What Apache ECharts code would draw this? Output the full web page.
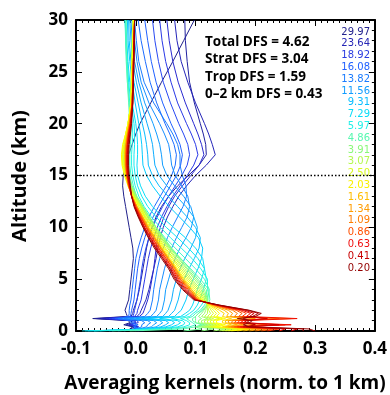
<!DOCTYPE html>
<html><head><meta charset="utf-8">
<script src="https://cdn.jsdelivr.net/npm/echarts@6/dist/echarts.min.js"></script>
<style>html,body{margin:0;padding:0;background:#fff}#c{width:390px;height:395px}</style>
</head><body><div id="c"></div>
<script>
// Altitude grid (km) shared by every kernel
const altitudes = [0, 0.2, 0.4, 0.6, 0.8, 1.0, 1.2, 1.4, 1.7, 2, 2.5, 3, 4, 5, 6, 7, 8, 9, 10, 11, 12, 13, 14, 15, 16, 17, 18, 19, 20, 22, 24, 26, 28, 30];

// Averaging kernels (norm. to 1 km), one per retrieval level, values at the altitudes above
const k_29_97 = [0.0, -0.01, -0.005, -0.02, -0.01, -0.012, -0.072, -0.014, -0.016, -0.018, -0.015, -0.012, -0.01, -0.008, -0.006, -0.004, -0.005, -0.008, -0.011, -0.014, -0.017, -0.02, -0.022, -0.021, -0.017, -0.012, -0.006, 0.0, 0.007, 0.025, 0.043, 0.062, 0.08, 0.098];
const k_26_80 = [0.003, -0.008, -0.002, -0.016, -0.006, -0.008, -0.066, -0.008, -0.005, -0.004, -0.001, 0.002, 0.006, 0.009, 0.012, 0.015, 0.018, 0.022, 0.027, 0.034, 0.043, 0.055, 0.07, 0.088, 0.106, 0.118, 0.117, 0.113, 0.108, 0.098, 0.09, 0.086, 0.083, 0.082];
const k_23_64 = [0.005, -0.004, 0.002, -0.012, 0.0, -0.002, -0.058, 0.002, 0.007, 0.009, 0.013, 0.017, 0.022, 0.026, 0.03, 0.034, 0.037, 0.041, 0.046, 0.053, 0.062, 0.072, 0.085, 0.1, 0.118, 0.133, 0.128, 0.122, 0.115, 0.1, 0.087, 0.076, 0.069, 0.065];
const k_21_30 = [0.006, -0.002, 0.005, -0.01, 0.004, 0.003, -0.05, 0.006, 0.012, 0.014, 0.017, 0.02, 0.024, 0.027, 0.03, 0.032, 0.034, 0.037, 0.041, 0.047, 0.055, 0.065, 0.078, 0.092, 0.106, 0.114, 0.11, 0.104, 0.097, 0.083, 0.071, 0.062, 0.056, 0.052];
const k_18_92 = [0.008, 0.0, 0.002, -0.007, 0.0, -0.002, -0.045, -0.002, 0.002, 0.003, 0.006, 0.009, 0.012, 0.015, 0.018, 0.021, 0.025, 0.03, 0.036, 0.043, 0.052, 0.062, 0.074, 0.086, 0.097, 0.104, 0.1, 0.093, 0.085, 0.07, 0.059, 0.05, 0.044, 0.04];
const k_17_50 = [0.01, 0.003, 0.0, -0.003, -0.002, -0.004, -0.04, -0.005, -0.003, -0.002, 0.0, 0.002, 0.005, 0.008, 0.01, 0.013, 0.017, 0.022, 0.028, 0.036, 0.045, 0.055, 0.066, 0.077, 0.086, 0.09, 0.087, 0.08, 0.072, 0.058, 0.046, 0.038, 0.032, 0.028];
const k_16_08 = [0.012, 0.005, -0.002, 0.0, -0.004, -0.007, -0.035, -0.009, -0.008, -0.007, -0.005, -0.003, -0.001, 0.001, 0.003, 0.006, 0.01, 0.015, 0.021, 0.029, 0.038, 0.048, 0.058, 0.068, 0.075, 0.078, 0.074, 0.067, 0.059, 0.045, 0.034, 0.026, 0.02, 0.015];
const k_14_90 = [0.014, 0.008, -0.004, 0.004, -0.008, -0.01, -0.028, -0.012, -0.011, -0.011, -0.01, -0.008, -0.006, -0.004, -0.002, 0.0, 0.004, 0.009, 0.015, 0.022, 0.031, 0.041, 0.051, 0.06, 0.066, 0.068, 0.064, 0.057, 0.049, 0.035, 0.024, 0.016, 0.009, 0.004];
const k_13_82 = [-0.02, 0.0, 0.01, 0.01, 0.015, 0.01, -0.03, 0.015, 0.02, 0.024, 0.026, 0.028, 0.03, 0.033, 0.036, 0.04, 0.046, 0.053, 0.061, 0.07, 0.079, 0.085, 0.084, 0.078, 0.074, 0.074, 0.07, 0.062, 0.052, 0.03, 0.014, 0.005, 0.001, -0.002];
const k_12_70 = [-0.03, 0.005, 0.018, 0.02, 0.025, 0.02, -0.02, 0.025, 0.03, 0.034, 0.036, 0.038, 0.04, 0.044, 0.048, 0.053, 0.06, 0.068, 0.077, 0.086, 0.09, 0.087, 0.077, 0.066, 0.06, 0.058, 0.055, 0.048, 0.04, 0.022, 0.009, 0.002, -0.002, -0.005];
const k_11_56 = [-0.045, 0.01, 0.026, 0.03, 0.035, 0.03, -0.01, 0.035, 0.04, 0.044, 0.046, 0.048, 0.05, 0.055, 0.06, 0.066, 0.074, 0.084, 0.093, 0.097, 0.092, 0.08, 0.065, 0.052, 0.045, 0.043, 0.04, 0.035, 0.029, 0.015, 0.005, -0.002, -0.006, -0.008];
const k_10_40 = [-0.06, 0.015, 0.034, 0.04, 0.045, 0.04, 0.0, 0.045, 0.05, 0.054, 0.057, 0.06, 0.063, 0.068, 0.074, 0.082, 0.092, 0.1, 0.103, 0.097, 0.084, 0.068, 0.052, 0.039, 0.032, 0.03, 0.028, 0.024, 0.019, 0.009, 0.001, -0.005, -0.008, -0.01];
const k_9_31 = [-0.07, 0.02, 0.042, 0.05, 0.055, 0.05, 0.01, 0.055, 0.06, 0.065, 0.068, 0.071, 0.075, 0.081, 0.089, 0.098, 0.106, 0.108, 0.1, 0.086, 0.07, 0.054, 0.039, 0.028, 0.021, 0.02, 0.018, 0.015, 0.011, 0.004, -0.003, -0.008, -0.011, -0.012];
const k_8_30 = [-0.08, 0.025, 0.05, 0.06, 0.065, 0.06, 0.02, 0.065, 0.07, 0.076, 0.08, 0.084, 0.089, 0.096, 0.104, 0.11, 0.112, 0.105, 0.09, 0.073, 0.056, 0.041, 0.028, 0.018, 0.012, 0.011, 0.01, 0.008, 0.005, -0.001, -0.006, -0.01, -0.013, -0.014];
const k_7_29 = [-0.085, 0.03, 0.06, 0.07, 0.075, 0.07, 0.04, 0.075, 0.083, 0.09, 0.095, 0.098, 0.103, 0.11, 0.115, 0.112, 0.1, 0.083, 0.063, 0.044, 0.028, 0.016, 0.008, 0.003, 0.002, 0.003, 0.003, 0.002, 0.0, -0.006, -0.01, -0.013, -0.015, -0.017];
const k_6_60 = [-0.09, 0.04, 0.07, 0.08, 0.082, 0.078, 0.06, 0.082, 0.09, 0.097, 0.103, 0.107, 0.113, 0.118, 0.115, 0.104, 0.088, 0.07, 0.051, 0.034, 0.02, 0.01, 0.003, -0.001, -0.003, -0.003, -0.002, -0.002, -0.003, -0.008, -0.012, -0.014, -0.016, -0.018];
const k_5_97 = [-0.07, 0.05, 0.08, 0.09, 0.09, 0.085, 0.075, 0.09, 0.096, 0.103, 0.11, 0.115, 0.12, 0.12, 0.109, 0.094, 0.076, 0.058, 0.041, 0.026, 0.014, 0.005, -0.001, -0.005, -0.007, -0.007, -0.006, -0.005, -0.006, -0.01, -0.013, -0.015, -0.017, -0.018];
const k_5_40 = [-0.04, 0.065, 0.09, 0.1, 0.095, 0.09, 0.085, 0.095, 0.1, 0.108, 0.115, 0.12, 0.123, 0.115, 0.1, 0.083, 0.066, 0.049, 0.034, 0.02, 0.009, 0.001, -0.004, -0.008, -0.01, -0.01, -0.009, -0.008, -0.008, -0.011, -0.014, -0.016, -0.017, -0.017];
const k_4_86 = [-0.01, 0.08, 0.1, 0.11, 0.1, 0.095, 0.095, 0.1, 0.105, 0.112, 0.12, 0.124, 0.122, 0.108, 0.092, 0.075, 0.058, 0.042, 0.028, 0.015, 0.005, -0.002, -0.007, -0.01, -0.012, -0.012, -0.011, -0.01, -0.01, -0.012, -0.014, -0.015, -0.016, -0.016];
const k_4_40 = [0.08, 0.11, 0.1, 0.115, 0.1, 0.1, 0.1, 0.1, 0.105, 0.11, 0.118, 0.121, 0.118, 0.104, 0.09, 0.075, 0.06, 0.047, 0.034, 0.023, 0.012, 0.002, -0.006, -0.012, -0.014, -0.015, -0.014, -0.013, -0.012, -0.009, -0.008, -0.007, -0.006, -0.005];
const k_3_91 = [0.11, 0.13, 0.105, 0.12, 0.105, 0.105, 0.11, 0.105, 0.11, 0.114, 0.119, 0.12, 0.115, 0.101, 0.087, 0.073, 0.059, 0.046, 0.034, 0.023, 0.012, 0.001, -0.007, -0.013, -0.016, -0.017, -0.016, -0.014, -0.012, -0.009, -0.008, -0.007, -0.006, -0.005];
const k_3_50 = [0.13, 0.15, 0.11, 0.125, 0.11, 0.11, 0.12, 0.11, 0.115, 0.117, 0.119, 0.119, 0.112, 0.098, 0.085, 0.071, 0.057, 0.045, 0.033, 0.022, 0.011, 0.0, -0.008, -0.014, -0.017, -0.019, -0.017, -0.015, -0.013, -0.008, -0.007, -0.006, -0.005, -0.004];
const k_3_07 = [0.14, 0.16, 0.115, 0.13, 0.115, 0.115, 0.125, 0.115, 0.12, 0.12, 0.119, 0.118, 0.109, 0.094, 0.082, 0.068, 0.055, 0.043, 0.031, 0.02, 0.01, -0.001, -0.009, -0.015, -0.019, -0.02, -0.018, -0.016, -0.013, -0.008, -0.007, -0.006, -0.005, -0.004];
const k_2_80 = [0.145, 0.17, 0.12, 0.135, 0.12, 0.12, 0.13, 0.12, 0.125, 0.122, 0.12, 0.116, 0.106, 0.091, 0.079, 0.066, 0.053, 0.041, 0.03, 0.019, 0.009, -0.002, -0.01, -0.016, -0.02, -0.021, -0.019, -0.016, -0.013, -0.008, -0.007, -0.006, -0.005, -0.004];
const k_2_50 = [0.15, 0.18, 0.125, 0.14, 0.125, 0.125, 0.14, 0.125, 0.13, 0.126, 0.121, 0.114, 0.103, 0.088, 0.076, 0.063, 0.05, 0.039, 0.028, 0.017, 0.008, -0.003, -0.011, -0.017, -0.021, -0.022, -0.02, -0.017, -0.013, -0.008, -0.007, -0.006, -0.005, -0.004];
const k_2_25 = [0.155, 0.185, 0.13, 0.145, 0.13, 0.13, 0.145, 0.13, 0.135, 0.13, 0.122, 0.112, 0.1, 0.085, 0.073, 0.061, 0.048, 0.037, 0.026, 0.016, 0.007, -0.004, -0.012, -0.018, -0.022, -0.023, -0.021, -0.017, -0.013, -0.008, -0.007, -0.006, -0.005, -0.004];
const k_2_03 = [0.16, 0.19, 0.135, 0.15, 0.135, 0.135, 0.15, 0.135, 0.14, 0.135, 0.123, 0.11, 0.097, 0.082, 0.07, 0.058, 0.046, 0.035, 0.024, 0.014, 0.005, -0.005, -0.013, -0.019, -0.023, -0.024, -0.022, -0.017, -0.013, -0.008, -0.007, -0.006, -0.005, -0.004];
const k_1_80 = [0.17, 0.19, 0.145, 0.16, 0.145, 0.145, 0.16, 0.145, 0.148, 0.14, 0.125, 0.108, 0.094, 0.08, 0.068, 0.056, 0.044, 0.033, 0.022, 0.012, 0.003, -0.006, -0.013, -0.016, -0.018, -0.019, -0.018, -0.015, -0.012, -0.006, -0.005, -0.004, -0.003, -0.002];
const k_1_61 = [0.18, 0.2, 0.15, 0.17, 0.15, 0.15, 0.18, 0.152, 0.155, 0.148, 0.127, 0.107, 0.093, 0.078, 0.067, 0.055, 0.043, 0.032, 0.021, 0.012, 0.002, -0.006, -0.012, -0.016, -0.018, -0.018, -0.017, -0.014, -0.011, -0.006, -0.005, -0.004, -0.003, -0.002];
const k_1_34 = [0.19, 0.21, 0.155, 0.18, 0.155, 0.155, 0.2, 0.158, 0.162, 0.155, 0.129, 0.105, 0.091, 0.077, 0.066, 0.054, 0.042, 0.031, 0.02, 0.011, 0.002, -0.006, -0.012, -0.015, -0.017, -0.017, -0.016, -0.014, -0.011, -0.006, -0.005, -0.004, -0.003, -0.002];
const k_1_09 = [0.2, 0.22, 0.16, 0.2, 0.16, 0.162, 0.26, 0.165, 0.17, 0.162, 0.131, 0.104, 0.09, 0.075, 0.065, 0.053, 0.041, 0.03, 0.019, 0.01, 0.001, -0.007, -0.012, -0.015, -0.017, -0.017, -0.016, -0.013, -0.01, -0.006, -0.005, -0.004, -0.003, -0.002];
const k_0_86 = [0.21, 0.23, 0.165, 0.22, 0.165, 0.168, 0.24, 0.172, 0.178, 0.168, 0.133, 0.103, 0.088, 0.074, 0.063, 0.051, 0.039, 0.028, 0.018, 0.009, 0.0, -0.007, -0.012, -0.015, -0.016, -0.016, -0.015, -0.013, -0.01, -0.006, -0.005, -0.004, -0.003, -0.002];
const k_0_75 = [0.22, 0.24, 0.17, 0.25, 0.17, 0.174, 0.22, 0.178, 0.185, 0.173, 0.134, 0.102, 0.086, 0.072, 0.062, 0.05, 0.038, 0.027, 0.017, 0.008, 0.0, -0.007, -0.011, -0.014, -0.015, -0.015, -0.014, -0.012, -0.009, -0.006, -0.005, -0.004, -0.003, -0.002];
const k_0_63 = [0.24, 0.25, 0.175, 0.26, 0.175, 0.18, 0.27, 0.185, 0.192, 0.178, 0.136, 0.101, 0.084, 0.07, 0.06, 0.048, 0.036, 0.025, 0.015, 0.007, -0.001, -0.007, -0.011, -0.014, -0.015, -0.015, -0.014, -0.012, -0.009, -0.006, -0.005, -0.004, -0.003, -0.002];
const k_0_41 = [0.26, 0.27, 0.18, 0.24, 0.18, 0.186, 0.22, 0.19, 0.198, 0.183, 0.137, 0.1, 0.082, 0.068, 0.058, 0.046, 0.034, 0.024, 0.014, 0.006, -0.002, -0.007, -0.01, -0.013, -0.014, -0.014, -0.013, -0.011, -0.008, -0.005, -0.004, -0.004, -0.003, -0.002];
const k_0_30 = [0.28, 0.28, 0.185, 0.2, 0.185, 0.19, 0.18, 0.195, 0.205, 0.188, 0.139, 0.099, 0.08, 0.066, 0.057, 0.045, 0.033, 0.022, 0.013, 0.005, -0.002, -0.007, -0.01, -0.012, -0.013, -0.013, -0.012, -0.01, -0.008, -0.005, -0.004, -0.003, -0.003, -0.002];
const k_0_20 = [0.3, 0.29, 0.19, 0.18, 0.19, 0.195, 0.17, 0.2, 0.21, 0.19, 0.14, 0.097, 0.078, 0.064, 0.055, 0.043, 0.031, 0.021, 0.012, 0.004, -0.003, -0.007, -0.009, -0.011, -0.012, -0.012, -0.011, -0.009, -0.007, -0.005, -0.004, -0.003, -0.002, -0.002];

const kernels = [k_29_97, k_26_80, k_23_64, k_21_30, k_18_92, k_17_50, k_16_08, k_14_90,
  k_13_82, k_12_70, k_11_56, k_10_40, k_9_31, k_8_30,
  k_7_29, k_6_60, k_5_97, k_5_40, k_4_86,
  k_4_40, k_3_91, k_3_50, k_3_07, k_2_80, k_2_50, k_2_25, k_2_03,
  k_1_80, k_1_61, k_1_34, k_1_09, k_0_86, k_0_75, k_0_63, k_0_41, k_0_30, k_0_20];
const kernelColors = ['#20208a', '#2020a0', '#2424b8', '#2a2ad0', '#2a38e6', '#2848f2', '#2060ff', '#1c6cff',
  '#1a7cff', '#168cff', '#109cff', '#0cacff', '#08bcff', '#04ccff',
  '#08dcf8', '#10e8f0', '#20f4e4', '#40f8c8', '#58fcb0',
  '#70ff98', '#88ff80', '#a0ff68', '#b4ff50', '#c8ff38', '#dcff20', '#f0ff10', '#ffff00',
  '#ffd800', '#ffbc00', '#ff9c00', '#ff7c00', '#ff5800', '#ff3400', '#f01000', '#d00000', '#b40000', '#940000'];

// Level labels on the right
const levelLabels = ['29.97', '23.64', '18.92', '16.08', '13.82', '11.56', '9.31', '7.29', '5.97', '4.86', '3.91', '3.07', '2.50', '2.03', '1.61', '1.34', '1.09', '0.86', '0.63', '0.41', '0.20'];
const levelLabelColors = ['#22228e', '#2525b5', '#2a3ae0', '#2060ff', '#1a7cff', '#109cff', '#08bcff', '#08dcf8', '#20f0e8', '#58f8b0', '#88f878', '#b4f850', '#d8f820', '#f8f000', '#ffbc00', '#ff9c00', '#ff7c00', '#ff5000', '#f01010', '#c80000', '#940000'];

const dfsLines = ['Total DFS = 4.62', 'Strat DFS = 3.04', 'Trop DFS = 1.59', '0\u20132 km DFS = 0.43'];
const tropopauseAltitude = 15;

const xMin = -0.1, xMax = 0.4, xStep = 0.1;
const yMin = 0, yMax = 30, yStep = 5;

const chart = echarts.init(document.getElementById('c'), null, {renderer: 'canvas'});
const tickFont = {fontFamily: 'Open Sans', fontWeight: 'bold', fontSize: 17, color: '#000'};
function xAx(pos, showLabel) {
  return {type: 'value', min: xMin, max: xMax, interval: xStep, position: pos,
    axisLine: {onZero: false, lineStyle: {color: '#000', width: 2}},
    axisTick: {inside: true, length: 6, lineStyle: {color: '#000', width: 1}},
    minorTick: {show: true, splitNumber: 10, length: 3, lineStyle: {color: '#000', width: 1}},
    splitLine: {show: false}, minorSplitLine: {show: false},
    axisLabel: Object.assign({show: showLabel, margin: 10, formatter: v => v.toFixed(1)}, tickFont)};
}
function yAx(pos, showLabel) {
  return {type: 'value', min: yMin, max: yMax, interval: yStep, position: pos,
    axisLine: {onZero: false, lineStyle: {color: '#000', width: 2}},
    axisTick: {inside: true, length: 6, lineStyle: {color: '#000', width: 1}},
    minorTick: {show: true, splitNumber: 5, length: 3, lineStyle: {color: '#000', width: 1}},
    splitLine: {show: false}, minorSplitLine: {show: false},
    axisLabel: Object.assign({show: showLabel, margin: 8}, tickFont)};
}
const series = kernels.map((arr, i) => ({
  type: 'line', xAxisIndex: 0, yAxisIndex: 0,
  data: arr.map((x, j) => [x, altitudes[j]]),
  symbol: 'none', silent: true, animation: false,
  lineStyle: {color: kernelColors[i], width: 1}
}));
series.push({type: 'line', data: [[xMin, tropopauseAltitude], [xMax, tropopauseAltitude]], symbol: 'none', silent: true, animation: false, z: 5,
  lineStyle: {color: '#000', width: 1.5, type: [1.5, 2]}});

const graphics = [];
graphics.push({type: 'text', x: 20, y: 176, rotation: Math.PI / 2,
  style: {text: 'Altitude (km)', fill: '#000', font: 'bold 20px "Open Sans"', textAlign: 'center', textVerticalAlign: 'middle', align: 'center', verticalAlign: 'middle'}});
graphics.push({type: 'text', x: 225, y: 384,
  style: {text: 'Averaging kernels (norm. to 1 km)', fill: '#000', font: 'bold 19px "Open Sans"', textAlign: 'center', textVerticalAlign: 'middle', align: 'center', verticalAlign: 'middle'}});
dfsLines.forEach((t, i) => graphics.push({type: 'text', x: 205, y: 42 + i * 17.5,
  style: {text: t, fill: '#000', font: 'bold 13.5px "Open Sans"', textAlign: 'left', textVerticalAlign: 'middle', align: 'left', verticalAlign: 'middle'}}));
levelLabels.forEach((t, i) => graphics.push({type: 'text', x: 370, y: 32 + i * 11.8,
  style: {text: t, fill: levelLabelColors[i], font: '10px "DejaVu Sans"', textAlign: 'right', textVerticalAlign: 'middle', align: 'right', verticalAlign: 'middle'}}));

chart.setOption({
  animation: false,
  backgroundColor: '#fff',
  grid: {left: 76, right: 13, top: 20, bottom: 64, containLabel: false},
  xAxis: [xAx('bottom', true), xAx('top', false)],
  yAxis: [yAx('left', true), yAx('right', false)],
  series: series,
  graphic: {elements: graphics}
});
</script>
</body></html>
